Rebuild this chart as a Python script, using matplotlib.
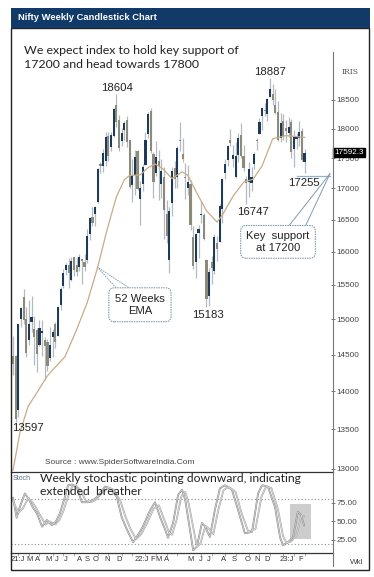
import matplotlib
matplotlib.use('Agg')
import matplotlib.pyplot as plt
from matplotlib import font_manager
from matplotlib.patches import Rectangle
from matplotlib.lines import Line2D
import matplotlib.ticker as mticker

# weekly OHLC, week 0 = week ending 22 Jan 2021, last = week ending 3 Mar 2023
opens = [14474, 14477, 13758, 14999, 15315, 14999, 14702, 14954, 14864, 14842,
         14628, 14798, 14708, 14677, 14449, 14747, 14928, 14756, 15211, 15484,
         15725, 15791, 15575, 15915, 15793, 15766, 15883, 15839, 15874, 16281,
         16535, 16593, 16775, 17399, 17363, 17443, 17880, 17691, 17867, 18418,
         18151, 17783, 17967, 18141, 17796, 17051, 17210, 17619, 16824, 17069,
         17388, 17913, 18308, 17575, 17243, 17456, 17076, 17192, 16593, 15868,
         16757, 17329, 17181, 17810, 17576, 17183, 16999, 17069, 16227, 15845,
         16291, 16578, 16570, 15877, 15335, 15842, 15710, 16127, 16151, 16661,
         17244, 17475, 17797, 17491, 17188, 17546, 17891, 17541, 17156, 17102,
         17094, 17397, 17808, 17910, 18211, 18329, 18246, 18552, 18600, 18402,
         18288, 17831, 18131, 18002, 17923, 18118, 17649, 17818, 17847, 17966,
         17428]
highs = [14754, 14491, 14932, 15169, 15432, 15176, 15273, 15336, 15051, 14878,
         14984, 14984, 14748, 14723, 14894, 14864, 14966, 15189, 15469, 15733,
         15835, 15901, 15915, 15924, 15915, 15962, 15896, 15962, 16350, 16543,
         16701, 16722, 17340, 17436, 17644, 17947, 17948, 17941, 18350, 18604,
         18242, 18012, 18123, 18210, 17805, 17490, 17640, 17639, 17118, 17400,
         17944, 18286, 18350, 17600, 17794, 17639, 17490, 17352, 16816, 16695,
         17344, 17443, 17703, 18115, 17842, 17414, 17378, 17133, 16404, 16284,
         16415, 16794, 16610, 15886, 15750, 15927, 16275, 16248, 16753, 17172,
         17490, 17724, 17992, 17726, 17777, 17925, 18096, 17722, 17196, 17429,
         17348, 17607, 17838, 18176, 18362, 18442, 18534, 18888, 18782, 18696,
         18473, 18265, 18251, 18141, 18201, 18162, 17972, 17917, 18134, 18004,
         17645]
lows = [14222, 13597, 13662, 14886, 14935, 14468, 14635, 14816, 14350, 14264,
        14617, 14479, 14151, 14273, 14416, 14462, 14592, 14755, 15127, 15451,
        15649, 15450, 15565, 15636, 15632, 15708, 15514, 15707, 15834, 16176,
        16396, 16395, 16764, 17254, 17269, 17362, 17452, 17613, 17864, 18034,
        17613, 17697, 17798, 17688, 17000, 16782, 16891, 16966, 16410, 16960,
        17383, 17839, 17577, 16837, 17203, 16809, 16843, 16203, 16134, 15671,
        16555, 17007, 17006, 17623, 17442, 16824, 16888, 16340, 15736, 15601,
        15903, 16444, 16173, 15183, 15191, 15511, 15661, 15858, 16142, 16438,
        17154, 17359, 17711, 17345, 17166, 17429, 17497, 17291, 16748, 16855,
        16950, 17312, 17637, 17901, 17969, 18210, 18133, 18552, 18410, 18255,
        17779, 17775, 17796, 17774, 17853, 17494, 17353, 17652, 17705, 17455,
        17255]
closes = [14372, 13635, 14924, 15163, 14982, 14529, 14938, 15031, 14744, 14507,
          14867, 14834, 14617, 14341, 14631, 14823, 14677, 15175, 15435, 15670,
          15799, 15683, 15860, 15722, 15690, 15923, 15856, 15763, 16238, 16529,
          16450, 16705, 17324, 17369, 17585, 17853, 17532, 17895, 18338, 18115,
          17672, 17917, 18102, 17765, 17026, 17197, 17511, 16985, 17004, 17354,
          17812, 18256, 17617, 17102, 17516, 17375, 17276, 16658, 16246, 16630,
          17287, 17153, 17670, 17784, 17476, 17172, 17102, 16411, 15782, 16266,
          16352, 16584, 16202, 15294, 15699, 15752, 16220, 16049, 16719, 17158,
          17398, 17698, 17758, 17559, 17539, 17833, 17531, 17327, 17094, 17315,
          17186, 17576, 17787, 18117, 18350, 18308, 18512, 18697, 18497, 18270,
          17807, 18105, 17860, 17957, 18027, 17604, 17854, 17856, 17944, 17466,
          17592]

# 52 week EMA
ema_weeks = [0, 2.6, 5.7, 9, 12.8, 15, 19.6, 24, 28, 32, 35.5, 39, 42, 44, 48,
             51, 53.6, 56.6, 60, 63.8, 66, 69.4, 73, 77, 79, 83, 87, 90.6, 94,
             98, 103, 110]
ema_vals = [12980, 13455, 13800, 13980, 14200, 14290, 14470, 14850, 15240,
            15770, 16340, 16860, 17140, 17210, 17220, 17340, 17400, 17320,
            17160, 17270, 17210, 16920, 16640, 16460, 16570, 16870, 17100,
            17150, 17370, 17825, 17880, 17850]

# stochastic %K and %D
k_weeks = [0, 1.4, 2.6, 4.5, 6, 7.5, 9, 11, 12.8, 14.7, 16.2, 17.7, 19.6, 20.8,
           22.3, 24, 26, 28.3, 30.2, 31.7, 34.7, 36.6, 39.2, 41, 43, 45.3, 47.2,
           49, 51.7, 53.6, 55.5, 57.4, 58.5, 60.4, 62.3, 63.8, 65, 66.5, 68,
           69.4, 71.3, 72.5, 74.3, 76.2, 78.1, 80, 82.6, 84.9, 87.5, 90.2, 92.5,
           94, 96.2, 98.9, 100.8, 101.9, 103.8, 105.7, 107.5, 108.7, 109.8]
k_vals = [82, 55, 70, 88, 80, 69, 61, 43, 52, 45, 50, 61, 83, 99, 100, 97, 76,
          76, 79, 83, 97, 95, 83, 56, 39, 22, 32, 43, 65, 76, 56, 39, 28, 48,
          86, 93, 79, 45, 11, 16, 48, 43, 29, 66, 95, 99, 93, 66, 34, 36, 88,
          99, 97, 69, 28, 18, 22, 29, 63, 59, 45]
d_weeks = [0, 2, 3.8, 5.8, 7.3, 8.8, 10.3, 12.3, 14, 16, 17.5, 19, 21, 22.3,
           23.8, 25.5, 27.5, 29.5, 31.5, 33, 36, 38, 40.5, 42.3, 44.3, 46.5,
           48.4, 50.2, 53, 55, 56.8, 58.8, 60, 61.8, 63.5, 65, 66.3, 68, 69.4,
           70.7, 72.6, 74, 75.6, 77.5, 79.4, 81.3, 84, 86.2, 88.8, 91.5, 93.8,
           95.5, 97.5, 100, 101.9, 103.2, 105, 107, 108.8, 109.8]
d_vals = [78, 62, 68, 82, 76, 68, 58, 46, 50, 46, 52, 64, 86, 97, 99, 92, 78,
          76, 80, 86, 96, 93, 78, 58, 40, 26, 33, 45, 67, 72, 55, 36, 32, 53,
          84, 90, 74, 42, 16, 20, 44, 40, 33, 66, 92, 97, 90, 62, 36, 40, 84,
          97, 95, 66, 30, 21, 23, 32, 58, 57]

price_ticks = [13000, 13500, 14000, 14500, 15000, 15500, 16000, 16500, 17000,
               17500, 18000, 18500]
stoch_ticks = [25, 50, 75]
month_pos = [1.8, 6.3, 9.3, 13.6, 16.6, 20, 25.3, 28, 31.3, 35.5, 40, 48.7, 52.7,
             55, 58.1, 67, 70.9, 73.9, 79.6, 83.4, 88.7, 92, 95.8, 103.4, 108.7]
month_lbl = ['21:J', 'M', 'A', 'M', 'J', 'J', 'A', 'S', 'O', 'N', 'D', '22:J',
             'F', 'M', 'A', 'M', 'J', 'J', 'A', 'S', 'O', 'N', 'D', '23:J', 'F']
month_starts = [2, 6, 10, 15, 19, 23, 28, 32, 36, 41, 45, 50, 54, 58, 62, 67,
                71, 75, 80, 84, 89, 93, 97, 102, 106, 110]
last_price = 17592.3

names = {f.name for f in font_manager.fontManager.ttflist}
if 'Liberation Sans Narrow' in names:
    NARROW, NS = 'Liberation Sans Narrow', 1.0
else:
    NARROW, NS = 'Liberation Sans', 0.84
BODY = 'Lato' if 'Lato' in names else 'DejaVu Sans'

W, H = 374, 577


def box(l, t, r, b):
    return [l / W, 1 - b / H, (r - l) / W, (b - t) / H]


def fp(x, y):
    return x / W, 1 - y / H


fig = plt.figure(figsize=(W / 100, H / 100), dpi=100)
fig.patch.set_facecolor('white')

ax = fig.add_axes(box(11, 30, 333, 472))
sx = fig.add_axes(box(11, 472, 333, 553))

# candles
up_c, dn_c, wick_c = '#1d3a58', '#8c8a78', '#b4bac0'
idx = list(range(len(closes)))
ax.vlines(idx, lows, highs, color=wick_c, lw=0.9, zorder=2)
for i in idx:
    lo = min(opens[i], closes[i])
    hi = max(opens[i], closes[i])
    col = up_c if closes[i] >= opens[i] else dn_c
    ax.bar(i, hi - lo, bottom=lo, width=0.8, color=col, lw=0, zorder=3)

ax.plot(ema_weeks, ema_vals, color='#c9ab86', lw=0.9, zorder=4)

ax.set_yscale('log')
ax.set_ylim(12960, 19780)
ax.set_xlim(-0.75, 120.75)
ax.yaxis.tick_right()
ax.yaxis.set_major_locator(mticker.FixedLocator(price_ticks))
ax.yaxis.set_major_formatter(mticker.FixedFormatter([str(t) for t in price_ticks]))
ax.yaxis.set_minor_locator(mticker.NullLocator())
ax.tick_params(axis='y', direction='inout', length=3, width=0.6, colors='#666',
               labelcolor='#444', labelsize=7.0 * NS, pad=1)
for lbl in ax.get_yticklabels():
    lbl.set_family(NARROW)
ax.set_xticks([])
for s in ax.spines.values():
    s.set_visible(False)

# last price tag
ax.text(1.003, last_price, '17592.3', transform=ax.get_yaxis_transform(),
        ha='left', va='center', color='white', fontsize=7.0 * NS, family=NARROW,
        bbox=dict(boxstyle='square,pad=0.15', fc='black', ec='black'),
        clip_on=False, zorder=6)

# callouts
call_c = '#7d9cb3'
ax.plot([31.7, 39.2], [15770, 15445], color=call_c, lw=0.7, ls=(0, (1.5, 1)))
ax.plot([31.7, 44.2], [15770, 15445], color=call_c, lw=0.7, ls=(0, (1.5, 1)))
ax.text(47.9, 15208, '52 Weeks\nEMA', ha='center', va='center', fontsize=9.6 * NS,
        family=NARROW, color='#222', linespacing=1.2,
        bbox=dict(boxstyle='round,pad=0.55,rounding_size=0.5', fc='white',
                  ec='#6e8aa0', lw=0.7, ls=(0, (1.5, 1))))
ax.plot([107.2, 119.6], [17200, 17200], color='#8fb3cc', lw=0.9, clip_on=False)
ax.plot([119.6, 103.8], [17240, 16385], color=call_c, lw=0.7, clip_on=False)
ax.plot([119.6, 110.2], [17240, 16385], color=call_c, lw=0.7, clip_on=False)
ax.text(100, 16152, 'Key  support\nat 17200', ha='center', va='center',
        fontsize=9.6 * NS, family=NARROW, color='#222', linespacing=1.2,
        bbox=dict(boxstyle='round,pad=0.5,rounding_size=0.5', fc='white',
                  ec='#6e8aa0', lw=0.7, ls=(0, (1.5, 1))))

# price labels
for txt, x, y in [('18604', 117, 88), ('18887', 270, 72), ('16747', 253, 212),
                  ('17255', 304, 183), ('15183', 208, 315), ('13597', 28, 428)]:
    fig.text(*fp(x, y), txt, ha='center', va='center', fontsize=9.8 * NS,
             family=NARROW, color='#222')

fig.text(*fp(24, 57.5), 'We expect index to hold key support of\n17200 and head towards 17800',
         ha='left', va='center', fontsize=8.9, family=BODY, color='#222', linespacing=1.4)
fig.text(*fp(120, 463), 'Source : www.SpiderSoftwareIndia.Com', ha='center', va='center',
         fontsize=7.2 * NS, family=NARROW, color='#444')

# stochastic panel (double stroked grey lines)
for xs, ys, c in [(d_weeks, d_vals, '#a8a8a8'), (k_weeks, k_vals, '#8e8e8e')]:
    sx.plot(xs, ys, color=c, lw=1.3, zorder=3, solid_joinstyle='round')
    sx.plot(xs, ys, color='#f2f2f2', lw=0.35, zorder=3.5, solid_joinstyle='round')
sx.axhline(80, color='#7f9a80', lw=0.8, ls=(0, (1, 2)))
sx.axhline(20, color='#7f9a80', lw=0.8, ls=(0, (1, 2)))
sx.add_patch(Rectangle((104.4, 26), 8, 48, fc='#bdbdbd', ec='none', alpha=0.75,
                       zorder=2))
sx.set_xlim(-0.75, 120.75)
sx.set_ylim(7.4, 116.9)
sx.yaxis.tick_right()
sx.set_yticks(stoch_ticks)
sx.set_yticklabels(['%.2f' % t for t in stoch_ticks])
sx.tick_params(axis='y', direction='inout', length=3, width=0.6, colors='#666',
               labelcolor='#444', labelsize=7.0 * NS, pad=1)
for lbl in sx.get_yticklabels():
    lbl.set_family(NARROW)
sx.set_xticks(month_pos)
sx.set_xticklabels(month_lbl)
sx.set_xticks(month_starts, minor=True)
sx.tick_params(axis='x', which='major', length=0, pad=2, labelsize=6.5 * NS,
               labelcolor='#333')
sx.tick_params(axis='x', which='minor', direction='out', length=2, width=0.5,
               color='#888')
for lbl in sx.get_xticklabels():
    lbl.set_family(NARROW)
for k in ['left', 'right']:
    sx.spines[k].set_visible(False)
sx.spines['top'].set_color('#333')
sx.spines['bottom'].set_color('#333')
sx.spines['top'].set_linewidth(0.9)
sx.spines['bottom'].set_linewidth(0.9)

fig.text(*fp(13, 478), 'Stoch', ha='left', va='center', fontsize=6.0 * NS,
         family=NARROW, color='#5b6f86')
fig.text(*fp(40, 485), 'Weekly stochastic pointing downward, indicating\nextended  breather',
         ha='left', va='center', fontsize=8.7, family=BODY, color='#222', linespacing=1.3)
fig.text(*fp(342, 72), 'IRIS', ha='left', va='center', fontsize=5.5, family='DejaVu Serif',
         color='#555')
fig.text(*fp(350, 562), 'Wkl', ha='left', va='center', fontsize=7.0 * NS, family=NARROW,
         color='#444')

# right axis line, frame and header
fig.add_artist(Line2D([333 / W, 333 / W], [1 - 52 / H, 1 - 566 / H], color='#777', lw=0.8))
fig.add_artist(Rectangle(fp(11, 570), (369 - 11) / W, (570 - 28) / H, fill=False,
                         ec='#222', lw=1.0))
fig.add_artist(Rectangle(fp(11, 28), (370 - 11) / W, 20 / H, fc='#113a68', ec='none'))
fig.text(*fp(18, 17.5), 'Nifty Weekly Candlestick Chart', ha='left', va='center',
         fontsize=8.0 * NS, family=NARROW, weight='bold', color='white')

fig.savefig('out.png', dpi=100)
